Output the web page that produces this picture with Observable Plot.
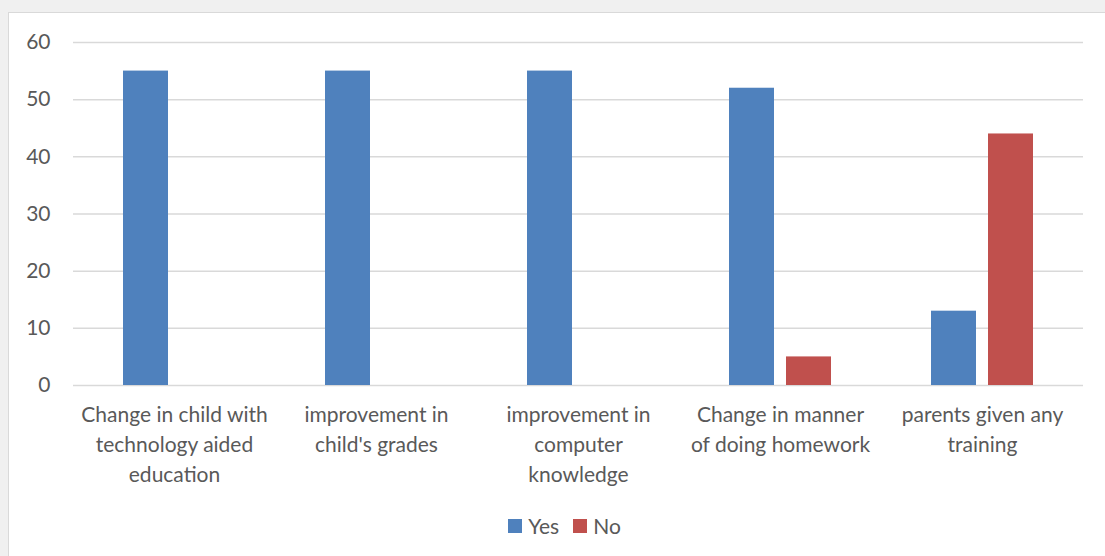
<!DOCTYPE html>
<html>
<head>
<meta charset="utf-8">
<script src="https://cdn.jsdelivr.net/npm/d3@7"></script>
<script src="https://cdn.jsdelivr.net/npm/@observablehq/plot@0.6"></script>
<style>
  html, body { margin: 0; padding: 0; background: #f0f0f0; width: 1105px; height: 556px; overflow: hidden; }
  #card { position: absolute; left: 8px; top: 12px; width: 1100px; height: 550px; background: #fff; border-left: 1px solid #d9d9d9; border-top: 1px solid #d9d9d9; }
  #chart { position: absolute; left: 0; top: 0; }
  #legend { position: absolute; left: 0; top: 500px; width: 1111px; display: flex; justify-content: center; gap: 14px; font-family: Lato, sans-serif; font-size: 21px; color: #595959; }
  #legend .item { display: flex; align-items: center; gap: 6px; }
  #legend .sw { width: 14px; height: 14px; display: inline-block; }
</style>
</head>
<body>
<div id="card">
  <div id="chart"></div>
  <div id="legend"></div>
</div>
<script>
const categories = [
  "Change in child with\ntechnology aided\neducation",
  "improvement in\nchild's grades",
  "improvement in\ncomputer\nknowledge",
  "Change in manner\nof doing homework",
  "parents given any\ntraining"
];
const series = ["Yes", "No"];
const yesValues = [55, 55, 55, 52, 13];
const noValues = [0, 0, 0, 5, 44];
const colors = ["#4F81BD", "#C0504D"];
const yTicks = [0, 10, 20, 30, 40, 50, 60];

const data = [];
categories.forEach((c, i) => {
  data.push({category: c, series: "Yes", value: yesValues[i]});
  data.push({category: c, series: "No", value: noValues[i]});
});

const chart = Plot.plot({
  width: 1097,
  height: 490,
  marginLeft: 63,
  marginRight: 23,
  marginTop: 29,
  marginBottom: 118,
  style: { fontFamily: "Lato, sans-serif", fontSize: "21px", color: "#595959", background: "transparent" },
  fx: { domain: categories, padding: 0, label: null },
  x: { domain: series, paddingInner: 0.21, paddingOuter: 0.874, axis: null },
  y: { domain: [0, 60], ticks: yTicks, label: null },
  color: { domain: series, range: colors },
  marks: [
    Plot.gridY(yTicks, { stroke: "#d9d9d9", strokeOpacity: 1, strokeWidth: 1.5 }),
    Plot.barY(data, { fx: "category", x: "series", y: "value", fill: "series" }),
    Plot.axisY(yTicks, { tickSize: 0, tickPadding: 23, fontSize: 21, fill: "#595959" }),
    Plot.axisFx({ anchor: "bottom", tickSize: 0, tickPadding: 15, fontSize: 21, lineHeight: 1.43, fill: "#595959", label: null })
  ]
});
document.getElementById("chart").appendChild(chart);

const legend = document.getElementById("legend");
series.forEach((s, i) => {
  const item = document.createElement("span");
  item.className = "item";
  const sw = document.createElement("span");
  sw.className = "sw";
  sw.style.background = colors[i];
  item.appendChild(sw);
  item.appendChild(document.createTextNode(s));
  legend.appendChild(item);
});
</script>
</body>
</html>
